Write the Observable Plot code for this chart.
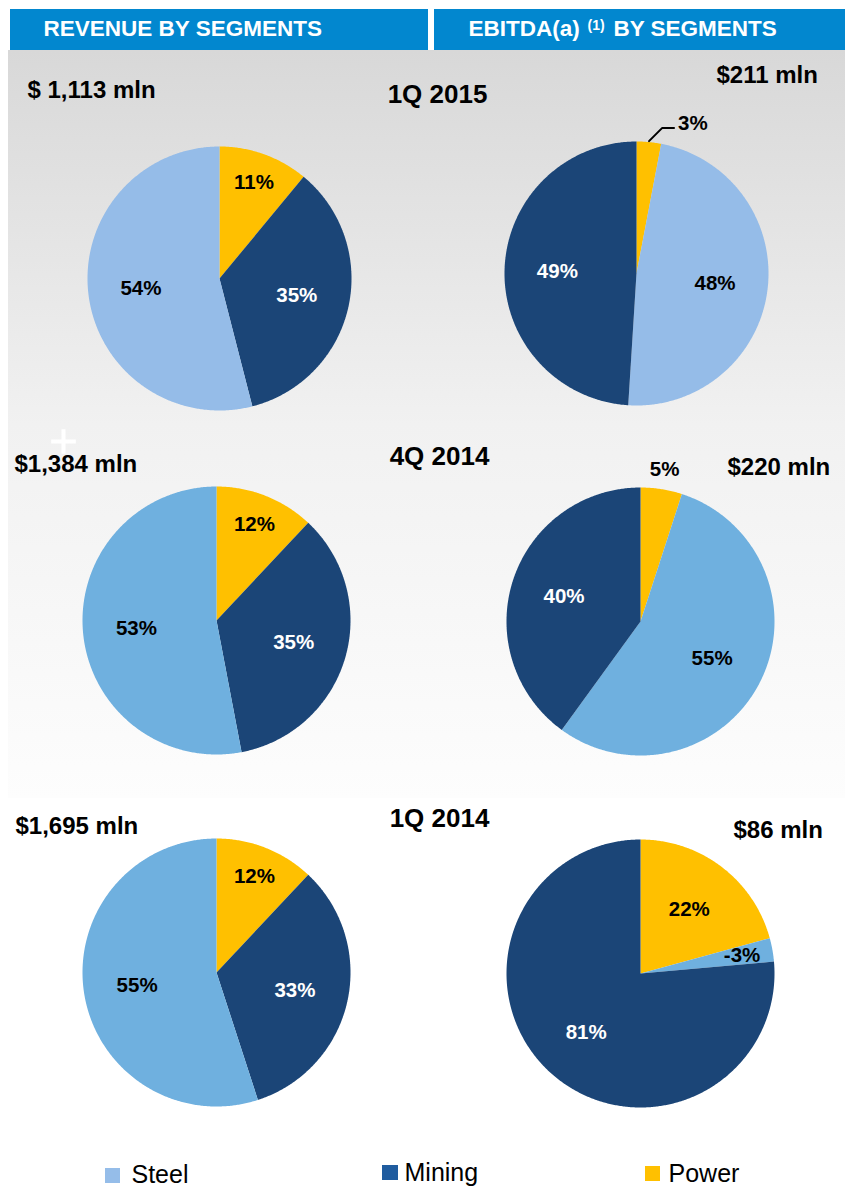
<!DOCTYPE html>
<html><head><meta charset="utf-8">
<script src="https://cdn.jsdelivr.net/npm/d3@7"></script>
<script src="https://cdn.jsdelivr.net/npm/@observablehq/plot@0.6"></script>
<style>html,body{margin:0;padding:0;background:#fff;} #chart svg{display:block;}</style>
</head><body><div id="chart"></div>
<script>
// ---------------- data ----------------
const periods = ["1Q 2015", "4Q 2014", "1Q 2014"];
const revenueTotals = ["$ 1,113 mln", "$1,384 mln", "$1,695 mln"];
const ebitdaTotals = ["$211 mln", "$220 mln", "$86 mln"];
const revenueSteel = [54, 53, 55];
const revenueMining = [35, 35, 33];
const revenuePower = [11, 12, 12];
const ebitdaSteel = [48, 55, -3];
const ebitdaMining = [49, 40, 81];
const ebitdaPower = [3, 5, 22];
const headerLeft = "REVENUE BY SEGMENTS";
const headerRight = ["EBITDA(a)", "(1)", "BY SEGMENTS"];
const legendLabels = ["Steel", "Mining", "Power"];

// ---------------- layout / style ----------------
const W = 845, H = 1186;
const FONT = "'Liberation Sans', Arial, Helvetica, sans-serif";
const pieLayout = [
  [{cx: 219, cy: 278, r: 132}, {cx: 636, cy: 273, r: 132}],
  [{cx: 216, cy: 620, r: 134}, {cx: 640, cy: 621, r: 134}],
  [{cx: 216, cy: 972, r: 134}, {cx: 640, cy: 973, r: 134}]
];
const rowText = [
  {title: [437, 102], rev: [27, 97], eb: [716, 82]},
  {title: [439, 464], rev: [14, 471], eb: [727, 474]},
  {title: [439, 826], rev: [15, 833], eb: [733, 837]}
];
const steelColors = ["#95bce8", "#6fb0df", "#6fb0df"];
const segColor = (seg, row) => seg === "Steel" ? steelColors[row] : seg === "Mining" ? "#1b4577" : "#ffc000";
const legendColors = ["#95bde9", "#1f5c9f", "#ffc000"];
const revenueOrder = ["Power", "Mining", "Steel"];
const ebitdaOrder = ["Power", "Steel", "Mining"];
// outside labels: [row, col, segment, withLeader]
const outsideLabels = [[0, 1, "Power", true], [1, 1, "Power", false]];

// ---------------- build geometry from data ----------------
const slicePts = [], pctLabels = [], leaderLabels = [], leaders = [];
for (let row = 0; row < 3; row++) {
  const charts = [
    {order: revenueOrder, vals: {Steel: revenueSteel[row], Mining: revenueMining[row], Power: revenuePower[row]}},
    {order: ebitdaOrder, vals: {Steel: ebitdaSteel[row], Mining: ebitdaMining[row], Power: ebitdaPower[row]}}
  ];
  charts.forEach((ch, col) => {
    const {cx, cy, r} = pieLayout[row][col];
    const items = ch.order.map(seg => ({seg, value: ch.vals[seg]}));
    const total = d3.sum(items, d => Math.abs(d.value));
    const arcs = d3.pie().sort(null).value(d => Math.abs(d.value))(items);
    arcs.forEach(a => {
      const id = `${row}-${col}-${a.data.seg}`;
      const fill = segColor(a.data.seg, row);
      const n = Math.max(2, Math.ceil((a.endAngle - a.startAngle) / (Math.PI / 360)));
      slicePts.push({id, fill, x: cx, y: cy});
      for (let i = 0; i <= n; i++) {
        const t = a.startAngle + (a.endAngle - a.startAngle) * i / n;
        slicePts.push({id, fill, x: cx + r * Math.sin(t), y: cy - r * Math.cos(t)});
      }
      slicePts.push({id, fill, x: cx, y: cy});
      const mid = (a.startAngle + a.endAngle) / 2;
      const share = Math.abs(a.data.value) / total;
      const out = outsideLabels.find(o => o[0] === row && o[1] === col && o[2] === a.data.seg);
      const text = `${a.data.value}%`;
      const color = a.data.seg === "Mining" ? "white" : "black";
      if (out && out[3]) {
        const p1 = [cx + (r + 1) * Math.sin(mid), cy - (r + 1) * Math.cos(mid)];
        const p2 = [p1[0] + 13, p1[1] - 13];
        const p3 = [p2[0] + 12, p2[1]];
        [p1, p2, p3].forEach(p => leaders.push({id, x: p[0], y: p[1]}));
        leaderLabels.push({x: p3[0] + 4, y: p3[1] - 5, text, color});
      } else if (out) {
        const rr = r * 1.15;
        pctLabels.push({x: cx + rr * Math.sin(mid), y: cy - rr * Math.cos(mid), text, color});
      } else {
        const rr = share < 0.15 ? r * 0.77 : r * 0.6;
        pctLabels.push({x: cx + rr * Math.sin(mid), y: cy - rr * Math.cos(mid), text, color});
      }
    });
  });
}

const titleTexts = [], amountLeft = [], amountRight = [];
periods.forEach((p, i) => {
  titleTexts.push({x: rowText[i].title[0], y: rowText[i].title[1], text: p});
  amountLeft.push({x: rowText[i].rev[0], y: rowText[i].rev[1], text: revenueTotals[i]});
  amountRight.push({x: rowText[i].eb[0], y: rowText[i].eb[1], text: ebitdaTotals[i]});
});

const headerRects = [{x1: 10, x2: 428, y1: 9, y2: 50}, {x1: 434, x2: 845, y1: 9, y2: 50}];
const legendRects = [
  {x1: 105, x2: 120, y1: 1168, y2: 1183, fill: legendColors[0]},
  {x1: 382, x2: 398, y1: 1165, y2: 1180, fill: legendColors[1]},
  {x1: 645, x2: 660, y1: 1166, y2: 1181, fill: legendColors[2]}
];
const legendTexts = [
  {x: 131, y: 1182, text: legendLabels[0]},
  {x: 404, y: 1180, text: legendLabels[1]},
  {x: 668, y: 1181, text: legendLabels[2]}
];

const gradientDefs = () => {
  const ns = "http://www.w3.org/2000/svg";
  const defs = document.createElementNS(ns, "defs");
  defs.innerHTML = `<linearGradient id="bgGrad" x1="0" y1="0" x2="0" y2="1">
    <stop offset="0" stop-color="#d8d8d8"/>
    <stop offset="0.5" stop-color="#f1f1f1"/>
    <stop offset="1" stop-color="#fdfdfd"/></linearGradient>`;
  return defs;
};

const txt = {x: "x", y: "y", text: "text"};
const chart = Plot.plot({
  width: W, height: H, margin: 0,
  x: {domain: [0, W], range: [0, W], axis: null},
  y: {domain: [0, H], range: [0, H], axis: null},
  color: {type: "identity"},
  style: {fontFamily: FONT, background: "white", overflow: "visible"},
  marks: [
    gradientDefs,
    Plot.rect([{x1: 8, x2: W, y1: 50, y2: 798}], {x1: "x1", x2: "x2", y1: "y1", y2: "y2", fill: "url(#bgGrad)"}),
    Plot.rect(headerRects, {x1: "x1", x2: "x2", y1: "y1", y2: "y2", fill: "#0287cf"}),
    Plot.text([{x: 43, y: 35, text: headerLeft}], {...txt, fill: "white", fontSize: 22.5, fontWeight: "bold", textAnchor: "start", lineAnchor: "bottom"}),
    Plot.text([{x: 468, y: 35, text: headerRight[0]}, {x: 613, y: 35, text: headerRight[2]}], {...txt, fill: "white", fontSize: 22.5, fontWeight: "bold", textAnchor: "start", lineAnchor: "bottom"}),
    Plot.text([{x: 587, y: 29, text: headerRight[1]}], {...txt, fill: "white", fontSize: 14, fontWeight: "bold", textAnchor: "start", lineAnchor: "bottom"}),
    Plot.dot([{x: 63, y: 441}], {x: "x", y: "y", symbol: "plus", r: 8, stroke: "white", strokeWidth: 4}),
    Plot.line(slicePts, {x: "x", y: "y", z: "id", fill: "fill", stroke: "none", curve: "linear"}),
    Plot.line(leaders, {x: "x", y: "y", z: "id", stroke: "black", strokeWidth: 2, curve: "linear"}),
    Plot.text(pctLabels, {...txt, fill: "color", textAnchor: "middle", fontSize: 20.5, fontWeight: "bold"}),
    Plot.text(leaderLabels, {...txt, fill: "color", textAnchor: "start", fontSize: 20.5, fontWeight: "bold"}),
    Plot.text(titleTexts, {...txt, fill: "black", fontSize: 26, fontWeight: "bold", textAnchor: "middle", lineAnchor: "bottom"}),
    Plot.text(amountLeft, {...txt, fill: "black", fontSize: 24, fontWeight: "bold", textAnchor: "start", lineAnchor: "bottom"}),
    Plot.text(amountRight, {...txt, fill: "black", fontSize: 24, fontWeight: "bold", textAnchor: "start", lineAnchor: "bottom"}),
    Plot.rect(legendRects, {x1: "x1", x2: "x2", y1: "y1", y2: "y2", fill: "fill"}),
    Plot.text(legendTexts, {...txt, fill: "black", fontSize: 25, textAnchor: "start", lineAnchor: "bottom"})
  ]
});
document.getElementById("chart").appendChild(chart);
</script>
</body></html>
